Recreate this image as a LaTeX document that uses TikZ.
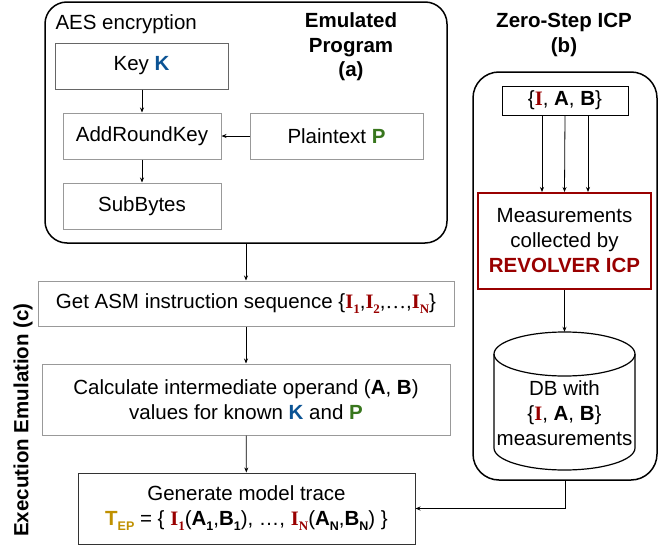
\documentclass[tikz,border=0pt]{standalone}
\usepackage{fontspec}
\setmainfont{Liberation Sans}
\newfontfamily\serifb{Liberation Serif}
\usetikzlibrary{arrows.meta}
\definecolor{cred}{HTML}{990000}
\definecolor{cblue}{HTML}{0B5394}
\definecolor{cgreen}{HTML}{38761D}
\definecolor{cgold}{HTML}{BF9000}
\definecolor{bgray}{HTML}{999999}
\newcommand\II{\textcolor{cred}{\serifb\bfseries I}}
\newcommand\subr[1]{\raisebox{-0.45ex}{\fontsize{13}{13}\selectfont\serifb\bfseries\color{cred}#1}}
\newcommand\subb[1]{\raisebox{-0.45ex}{\fontsize{12.5}{12.5}\selectfont\bfseries #1}}
\tikzset{
  every node/.style={font=\fontsize{20.5}{25}\selectfont},
  gbox/.style={draw=bgray, line width=1pt, rectangle, inner sep=0pt, align=center},
  kbox/.style={draw=black!60, line width=1pt, rectangle, inner sep=0pt, align=center},
  bigbox/.style={draw=black, line width=1.5pt, rectangle, rounded corners=22pt, inner sep=0pt},
  arr/.style={-{Stealth[length=5pt,width=4pt]}, line width=0.8pt},
}
\begin{document}
\begin{tikzpicture}[x=1pt,y=-1pt]
\useasboundingbox (0,0) rectangle (667,546);
% (a)
\node[bigbox, minimum width=402pt, minimum height=241pt] (boxA) at (246,122.5) {};
\node[anchor=base west] (aes) at (52,30) {AES encryption};
\node[align=center, font=\fontsize{20.5}{24.5}\selectfont\bfseries] (titA) at (351,47) {Emulated\\Program\\(a)};
\node[kbox, minimum width=173pt, minimum height=46pt] (key) at (141.5,66) {Key \textbf{\color{cblue}K}};
\node[gbox, minimum width=158pt, minimum height=46pt] (add) at (142,136) {AddRoundKey};
\node[gbox, minimum width=158pt, minimum height=46pt] (sub) at (142,206) {SubBytes};
\node[gbox, minimum width=173pt, minimum height=46pt] (plain) at (336.5,136) {Plaintext \textbf{\color{cgreen}P}};
\draw[arr] (key.south -| add.north) -- (add.north);
\draw[arr] (add) -- (sub);
\draw[arr] (plain) -- (add);
% (c)
\node[gbox, minimum width=416pt, minimum height=45pt] (asm) at (246,303.5) {Get ASM instruction sequence \{\II\subr{1},\II\subr{2},{\serifb …},\II\subr{N}\}};
\node[gbox, minimum width=408pt, minimum height=71pt] (calc) at (246,399.5) {Calculate intermediate operand (\textbf{A}, \textbf{B})\\values for known \textbf{\color{cblue}K} and \textbf{\color{cgreen}P}};
\node[kbox, draw=black!80, minimum width=337pt, minimum height=71pt] (gen) at (246.5,508.5) {Generate model trace\\\textcolor{cgold}{\textbf{T}\subb{EP}} = \{ \II\subr{1}(\textbf{A}\subb{1},\textbf{B}\subb{1}), …, \II\subr{N}(\textbf{A}\subb{N},\textbf{B}\subb{N}) \}};
\node[rotate=90, font=\fontsize{20.5}{25}\selectfont\bfseries] (titC) at (23,420) {Execution Emulation (c)};
\draw[arr] (boxA.south -| asm.north) -- (asm.north);
\draw[arr] (asm) -- (calc);
\draw[arr] (calc) -- (gen);
% (b)
\node[align=center, font=\fontsize{20.5}{24.5}\selectfont\bfseries] (titB) at (564,35) {Zero-Step ICP\\(b)};
\node[bigbox, rounded corners=26pt, minimum width=184pt, minimum height=408pt] (boxB) at (565,276) {};
\node[draw=black, line width=1pt, rectangle, inner sep=0pt, minimum width=126pt, minimum height=29pt] (iab) at (565,100.5) {\{\II, \textbf{A}, \textbf{B}\}};
\node[draw=cred, line width=2pt, rectangle, inner sep=0pt, align=center, minimum width=173pt, minimum height=96pt] (meas) at (564.5,241) {Measurements\\collected by\\\textbf{\color{cred}REVOLVER ICP}};
\coordinate (i1) at (542,115);
\coordinate (i3) at (588,115);
\draw[arr] (i1) -- (i1 |- meas.north);
\draw[arr] (iab.south) -- (meas.north);
\draw[arr] (i3) -- (i3 |- meas.north);
\node[inner sep=0pt, minimum width=141pt, minimum height=138pt] (db) at (564.5,401) {};
\draw[line width=1.2pt] (494,354) arc[start angle=180, end angle=-180, x radius=70.5pt, y radius=22pt];
\draw[line width=1.2pt] (494,354) -- (494,448) arc[start angle=180, end angle=360, x radius=70.5pt, y radius=22pt] -- (635,354);
\node[align=center] (dbtxt) at (564.5,413) {DB with\\\{\II, \textbf{A}, \textbf{B}\}\\measurements};
\draw[arr] (meas.south) -- (db.north);
\draw[arr] (boxB.south) |- (gen.east);
\end{tikzpicture}
\end{document}
